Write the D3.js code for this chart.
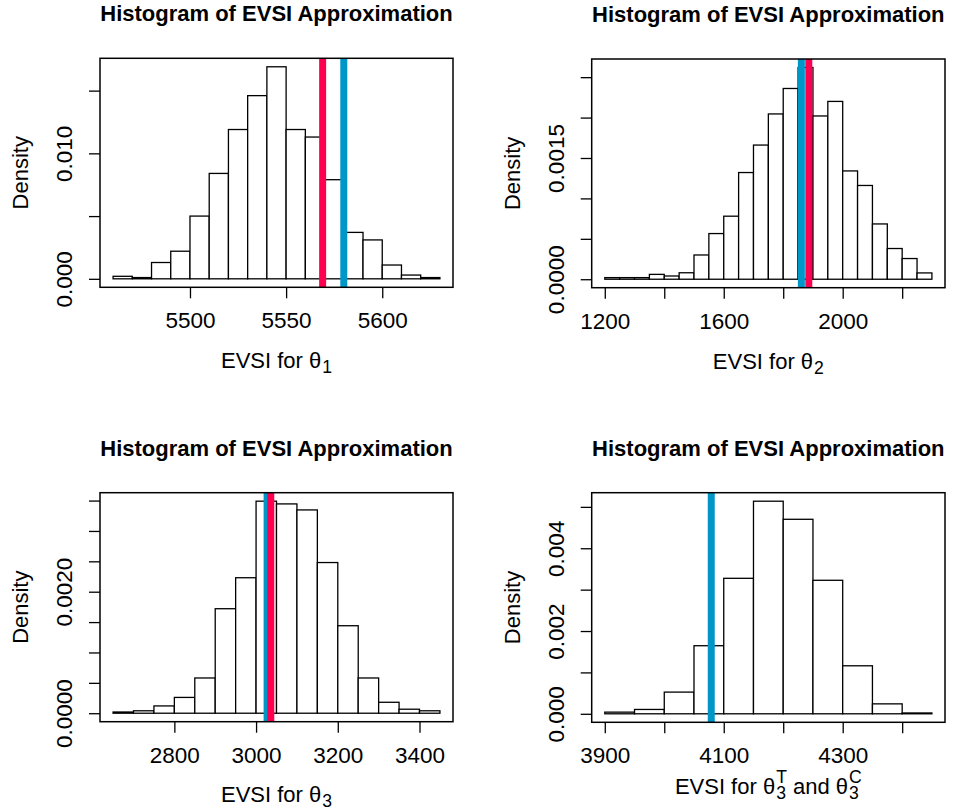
<!DOCTYPE html>
<html>
<head>
<meta charset="utf-8">
<script src="https://cdn.jsdelivr.net/npm/d3@7"></script>
<style>
  body { margin: 0; background: #fff; }
  svg { display: block; font-family: "Liberation Sans", Arial, Helvetica, sans-serif; }
</style>
</head>
<body>
<div id="chart"></div>
<script>
const mainTitle = 'Histogram of EVSI Approximation';

// panel 1: theta_1
const breaks1 = [5460, 5470, 5480, 5490, 5500, 5510, 5520, 5530, 5540, 5550, 5560, 5570, 5580, 5590, 5600, 5610, 5620, 5630];
const density1 = [0.0002, 0.0001, 0.0013, 0.0022, 0.0050, 0.0084, 0.0119, 0.0146, 0.0169, 0.0119, 0.0113, 0.0079, 0.0037, 0.0031, 0.0011, 0.0003, 0.0001];
const xTicks1 = [5500, 5550, 5600];
const xLabels1 = ['5500', '5550', '5600'];
const yTicks1 = [0, 0.005, 0.010, 0.015];
const yLabels1 = ['0.000', '', '0.010', ''];
const red1 = 5569, blue1 = 5580;

// panel 2: theta_2
const breaks2 = [1200, 1250, 1300, 1350, 1400, 1450, 1500, 1550, 1600, 1650, 1700, 1750, 1800, 1850, 1900, 1950, 2000, 2050, 2100, 2150, 2200, 2250, 2300];
const density2 = [0.00002, 0.00002, 0.00002, 0.00006, 0.00004, 0.00008, 0.00030, 0.000565, 0.00078, 0.00132, 0.00166, 0.002045, 0.00236, 0.00262, 0.00202, 0.00220, 0.00134, 0.00116, 0.000684, 0.00038, 0.000256, 0.000078];
const xTicks2 = [1200, 1400, 1600, 1800, 2000, 2200];
const xLabels2 = ['1200', '', '1600', '', '2000', ''];
const yTicks2 = [0, 0.0005, 0.0010, 0.0015, 0.0020, 0.0025];
const yLabels2 = ['0.0000', '', '', '0.0015', '', ''];
const red2 = 1886, blue2 = 1861;

// panel 3: theta_3
const breaks3 = [2650, 2700, 2750, 2800, 2850, 2900, 2950, 3000, 3050, 3100, 3150, 3200, 3250, 3300, 3350, 3400, 3450];
const density3 = [0.00002, 0.00004, 0.00012, 0.00026, 0.00058, 0.00172, 0.00223, 0.00349, 0.003445, 0.003346, 0.00248, 0.00144, 0.00058, 0.00018, 0.000066, 0.00004];
const xTicks3 = [2800, 3000, 3200, 3400];
const xLabels3 = ['2800', '3000', '3200', '3400'];
const yTicks3 = [0, 0.0005, 0.0010, 0.0015, 0.0020, 0.0025, 0.0030, 0.0035];
const yLabels3 = ['0.0000', '', '', '', '0.0020', '', '', ''];
const red3 = 3036, blue3 = 3027;

// panel 4: theta_3^T and theta_3^C
const breaks4 = [3900, 3950, 4000, 4050, 4100, 4150, 4200, 4250, 4300, 4350, 4400, 4450];
const density4 = [0.00004, 0.000105, 0.000524, 0.001645, 0.003274, 0.005137, 0.00470, 0.003226, 0.00116, 0.00024, 0.00002];
const xTicks4 = [3900, 4000, 4100, 4200, 4300, 4400];
const xLabels4 = ['3900', '', '4100', '', '4300', ''];
const yTicks4 = [0, 0.001, 0.002, 0.003, 0.004, 0.005];
const yLabels4 = ['0.000', '', '0.002', '', '0.004', ''];
const blue4 = 4079;

const RED = '#ff0050';
const BLUE = '#0096c8';
const FONT = 22;
const TICK_FONT = 22.5;

const W = 953, H = 811;

// plot boxes [left, top, right, bottom]
const panels = [
  { box: [100, 58.3, 453, 287.3], breaks: breaks1, dens: density1, xt: xTicks1, xl: xLabels1, yt: yTicks1, yl: yLabels1,
    vlines: [[red1, RED], [blue1, BLUE]], xlab: [{ t: 'EVSI for \u03b8' }, { sub: '1' }], xlabDy: 81 },
  { box: [591.7, 59, 945, 287.7], breaks: breaks2, dens: density2, xt: xTicks2, xl: xLabels2, yt: yTicks2, yl: yLabels2,
    vlines: [[blue2, BLUE], [red2, RED]], xlab: [{ t: 'EVSI for \u03b8' }, { sub: '2' }], xlabDy: 81 },
  { box: [100, 492.7, 453, 721.7], breaks: breaks3, dens: density3, xt: xTicks3, xl: xLabels3, yt: yTicks3, yl: yLabels3,
    vlines: [[blue3, BLUE], [red3, RED]], xlab: [{ t: 'EVSI for \u03b8' }, { sub: '3' }], xlabDy: 80 },
  { box: [591.7, 492.7, 945, 722.3], breaks: breaks4, dens: density4, xt: xTicks4, xl: xLabels4, yt: yTicks4, yl: yLabels4,
    vlines: [[blue4, BLUE]], xlab: [{ t: 'EVSI for \u03b8' }, { sub: '3', sup: 'T' }, { t: ' and \u03b8' }, { sub: '3', sup: 'C' }], xlabDy: 72 }
];

const svg = d3.select('#chart').append('svg')
  .attr('width', W)
  .attr('height', H);

// one text element with plotmath-like sub/superscripts, centred at cx
function mathLabel(g, parts, cx, y) {
  const txt = g.append('text')
    .attr('x', cx)
    .attr('y', y)
    .attr('text-anchor', 'middle')
    .attr('font-size', FONT)
    .attr('xml:space', 'preserve');
  let level = 0; // current baseline offset
  parts.forEach((p) => {
    if (p.t) {
      txt.append('tspan').attr('dy', -level).text(p.t);
      level = 0;
    } else {
      const sub = txt.append('tspan')
        .attr('dx', 1)
        .attr('dy', 5 - level)
        .attr('font-size', FONT * 0.8)
        .text(p.sub);
      level = 5;
      if (p.sup) {
        const wSub = sub.node().getComputedTextLength();
        const sup = txt.append('tspan')
          .attr('dx', -wSub)
          .attr('dy', -16)
          .attr('font-size', FONT * 0.8)
          .text(p.sup);
        level = -11;
        const wSup = sup.node().getComputedTextLength();
        if (wSub > wSup) sup.attr('dx', -wSub).text(p.sup);
      }
    }
  });
}

panels.forEach((p, i) => {
  const [x0, y0, x1, y1] = p.box;
  const lo = p.breaks[0], hi = p.breaks[p.breaks.length - 1];
  const ext = (hi - lo) * 0.04;
  const maxD = d3.max(p.dens);

  const x = d3.scaleLinear().domain([lo - ext, hi + ext]).range([x0, x1]);
  const y = d3.scaleLinear().domain([-0.04 * maxD, 1.04 * maxD]).range([y1, y0]);

  const g = svg.append('g').attr('class', 'panel-' + i);
  const cx = (x0 + x1) / 2;

  g.append('text')
    .attr('x', cx)
    .attr('y', y0 - 37)
    .attr('text-anchor', 'middle')
    .attr('font-size', FONT)
    .attr('font-weight', 'bold')
    .text(mainTitle);

  // bars
  g.selectAll('rect.bar')
    .data(p.dens)
    .enter()
    .append('rect')
    .attr('class', 'bar')
    .attr('x', (d, j) => x(p.breaks[j]))
    .attr('width', (d, j) => x(p.breaks[j + 1]) - x(p.breaks[j]))
    .attr('y', (d) => y(d))
    .attr('height', (d) => y(0) - y(d))
    .attr('fill', '#fff')
    .attr('stroke', '#000')
    .attr('stroke-width', 1.3);

  // vertical reference lines
  g.selectAll('line.vline')
    .data(p.vlines)
    .enter()
    .append('line')
    .attr('class', 'vline')
    .attr('x1', (d) => x(d[0]))
    .attr('x2', (d) => x(d[0]))
    .attr('y1', y0)
    .attr('y2', y1)
    .attr('stroke', (d) => d[1])
    .attr('stroke-width', 7);

  // box
  g.append('rect')
    .attr('x', x0)
    .attr('y', y0)
    .attr('width', x1 - x0)
    .attr('height', y1 - y0)
    .attr('fill', 'none')
    .attr('stroke', '#000')
    .attr('stroke-width', 1.5);

  // x axis
  const xAxis = d3.axisBottom(x)
    .tickValues(p.xt)
    .tickSize(11)
    .tickPadding(8)
    .tickFormat((d, j) => p.xl[j]);
  const xg = g.append('g').attr('transform', `translate(0,${y1})`).call(xAxis);
  xg.select('.domain').remove();
  xg.selectAll('line').attr('stroke-width', 1.3);
  xg.selectAll('text')
    .attr('font-size', TICK_FONT)
    .attr('font-family', null)
    .attr('dy', null)
    .attr('y', 41)
    .attr('fill', '#000');

  // y axis
  const yAxis = d3.axisLeft(y)
    .tickValues(p.yt)
    .tickSize(11)
    .tickFormat((d, j) => p.yl[j]);
  const yg = g.append('g').attr('transform', `translate(${x0},0)`).call(yAxis);
  yg.select('.domain').remove();
  yg.selectAll('line').attr('stroke-width', 1.3);
  yg.selectAll('text')
    .attr('font-size', TICK_FONT)
    .attr('font-family', null)
    .attr('dy', null)
    .attr('x', 0)
    .attr('y', 0)
    .attr('text-anchor', 'middle')
    .attr('transform', 'translate(-28,0) rotate(-90)')
    .attr('fill', '#000');

  // axis titles
  g.append('text')
    .attr('transform', `translate(${x0 - 72},${(y0 + y1) / 2}) rotate(-90)`)
    .attr('text-anchor', 'middle')
    .attr('font-size', FONT)
    .text('Density');

  mathLabel(g, p.xlab, cx, y1 + p.xlabDy);
});
</script>
</body>
</html>
